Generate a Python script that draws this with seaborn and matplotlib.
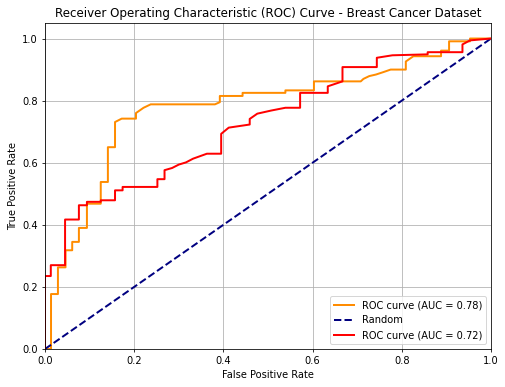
import matplotlib
matplotlib.use("Agg")
import matplotlib.pyplot as plt
import seaborn as sns
import pandas as pd

# ROC curve 1 (AUC = 0.78)
fpr_a = [0.0, 0.0135, 0.0135, 0.029, 0.029, 0.046, 0.046, 0.061, 0.061, 0.076, 0.076,
         0.094, 0.094, 0.125, 0.125, 0.141, 0.141, 0.157, 0.157, 0.172, 0.204, 0.204,
         0.221, 0.237, 0.381, 0.392, 0.392, 0.443, 0.443, 0.539, 0.539, 0.603, 0.603,
         0.708, 0.714, 0.727, 0.742, 0.759, 0.775, 0.809, 0.809, 0.826, 0.888, 0.888,
         0.906, 0.906, 0.953, 0.953, 1.0]
tpr_a = [0.0, 0.0, 0.177, 0.177, 0.263, 0.263, 0.318, 0.318, 0.345, 0.345, 0.39,
         0.39, 0.468, 0.468, 0.538, 0.538, 0.65, 0.65, 0.731, 0.742, 0.742, 0.760,
         0.777, 0.788, 0.788, 0.795, 0.815, 0.815, 0.825, 0.825, 0.833, 0.833, 0.862,
         0.862, 0.870, 0.879, 0.884, 0.892, 0.900, 0.900, 0.926, 0.943, 0.943, 0.961,
         0.961, 0.991, 0.991, 1.0, 1.0]

# ROC curve 2 (AUC = 0.72)
fpr_b = [0.0, 0.0, 0.013, 0.013, 0.045, 0.045, 0.076, 0.076, 0.094, 0.094, 0.125,
         0.125, 0.157, 0.157, 0.174, 0.174, 0.252, 0.252, 0.268, 0.268, 0.285, 0.300,
         0.316, 0.332, 0.363, 0.395, 0.395, 0.412, 0.459, 0.459, 0.476, 0.507, 0.539,
         0.572, 0.572, 0.634, 0.634, 0.667, 0.667, 0.744, 0.744, 0.779, 0.858, 0.858,
         0.936, 0.936, 0.953, 1.0]
tpr_b = [0.0, 0.235, 0.235, 0.27, 0.27, 0.417, 0.417, 0.463, 0.463, 0.474, 0.474,
         0.479, 0.479, 0.511, 0.511, 0.522, 0.522, 0.547, 0.547, 0.576, 0.583, 0.594,
         0.601, 0.613, 0.629, 0.629, 0.693, 0.713, 0.723, 0.741, 0.758, 0.768, 0.777,
         0.777, 0.825, 0.825, 0.846, 0.862, 0.908, 0.908, 0.938, 0.946, 0.949, 0.956,
         0.956, 0.981, 0.994, 1.0]

rand_x = [0.0, 1.0]
rand_y = [0.0, 1.0]

df_a = pd.DataFrame({"fpr": fpr_a, "tpr": tpr_a})
df_b = pd.DataFrame({"fpr": fpr_b, "tpr": tpr_b})
df_r = pd.DataFrame({"fpr": rand_x, "tpr": rand_y})

dpi = 71.3
fig = plt.figure(figsize=(505 / dpi, 387 / dpi), dpi=dpi)
ax = fig.add_axes([45 / 505, 38 / 387, 446 / 505, 326 / 387])

sns.lineplot(data=df_a, x="fpr", y="tpr", sort=False, estimator=None, ax=ax,
             color="darkorange", lw=2, label="ROC curve (AUC = 0.78)")
sns.lineplot(data=df_r, x="fpr", y="tpr", sort=False, estimator=None, ax=ax,
             color="navy", lw=2, linestyle="--", label="Random")
sns.lineplot(data=df_b, x="fpr", y="tpr", sort=False, estimator=None, ax=ax,
             color="red", lw=2, label="ROC curve (AUC = 0.72)")

ax.set_xlim(0.0, 1.0)
ax.set_ylim(0.0, 1.05)
ax.set_xlabel("False Positive Rate")
ax.set_ylabel("True Positive Rate")
ax.set_title("Receiver Operating Characteristic (ROC) Curve - Breast Cancer Dataset")
ax.legend(loc="lower right")
ax.grid(True)

fig.savefig("out.png", dpi=dpi)
